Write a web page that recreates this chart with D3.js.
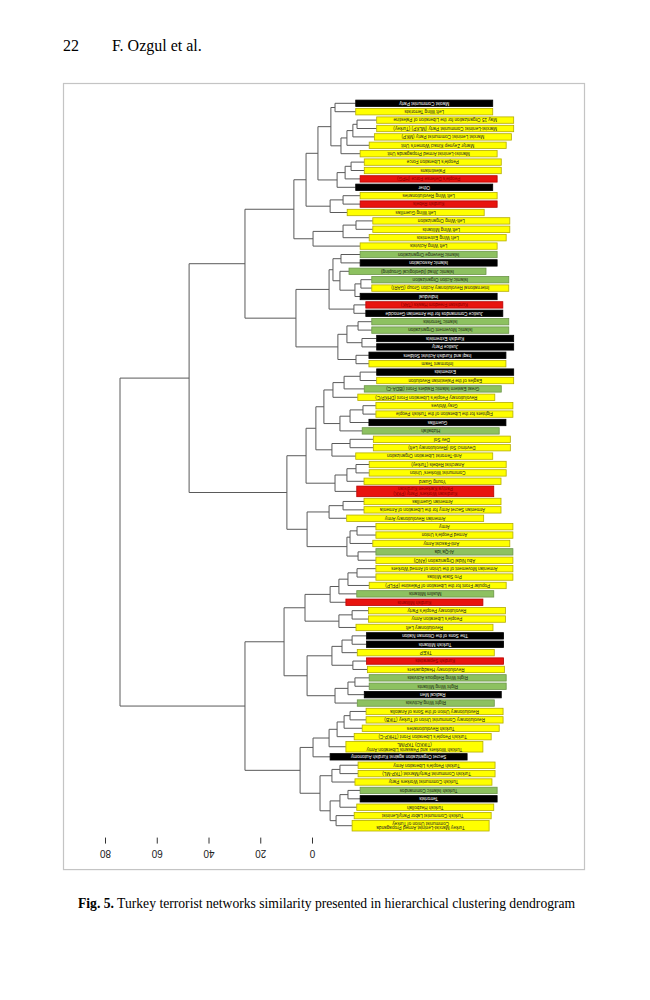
<!DOCTYPE html>
<html><head><meta charset="utf-8">
<script src="https://cdn.jsdelivr.net/npm/d3@7"></script>
<style>body{margin:0;background:#fff}svg{display:block}</style>
</head><body>
<svg id="c" width="650" height="1000"></svg>
<script>
// ---------- DATA ----------
const leafLabels = [
"Maoist Communist Party","Left Wing Terrorists","May 15 Organization for the Liberation of Palestine",
"Marxist-Leninist Communist Party (MLKP) (Turkey)","Marxist Leninist Communist Party (MKP)",
"Martyr Zeynep Kinaci Women's Unit","Marxist-Leninist Armed Propaganda Unit","People's Liberation Force",
"Palestinians","People's Defense Force (HPG)","Other","Left Wing Revolutionaries","Kurdish Rebels",
"Left Wing Guerrillas","Left-Wing Organization","Left Wing Militants","Left Wing Extremists",
"Left Wing Activists","Islamic Revenge Organization","Islamic Association",
"Islamic Jihad (Ideological Grouping)","Islamic Action Organization",
"International Revolutionary Action Group (GARI)","Individual","Kurdistan Freedom Hawks (TAK)",
"Justice Commandos for the Armenian Genocide","Islamic Terrorists","Islamic Movement Organization",
"Kurdish Extremists","Justice Party","Iraqi and Kurdish Activist Soldiers","Informant Team","Extremists",
"Eagles of the Palestinian Revolution","Great Eastern Islamic Raiders Front (IBDA-C)",
"Revolutionary People's Liberation Front (DHKP/C)","Gray Wolves",
"Fighters for the Liberation of the Turkish People","Guerrillas","Hizballah","Dev Sol",
"Devrimci Sol (Revolutionary Left)","Anti-Terrorist Liberation Organization","Anarchist Rebels (Turkey)",
"Communist Workers' Union","Young Guard","Kurdistan Workers' Party (PKK)\nPartiya Karkeren Kurdistan",
"Armenian Guerrillas","Armenian Secret Army for the Liberation of Armenia","Armenian Revolutionary Army",
"Army","Armed People's Union","Anti-Fascist Army","Al-Qa`ida","Abu Nidal Organization (ANO)",
"Armenian Movement of the Union of Armed Workers","Pro State Militias",
"Popular Front for the Liberation of Palestine (PFLP)","Muslim Militants","Kurdish Militants",
"Revolutionary People's Party","People's Liberation Army","Revolutionary Left",
"The Sons of the Ottoman Nation","Turkish Militants","TKEP","Kurdish Separatists",
"Revolutionary Headquarters","Right Wing Religious Activists","Right Wing Militants","Radical Men",
"Right Wing Activists","Revolutionary Union of the Sons of Anatolia",
"Revolutionary Communist Union of Turkey (TIKB)","Turkish Revolutionaries",
"Turkish People's Liberation Front (THKP-C)",
"Turkish Workers and Peasants Liberation Army\n(TIKKO) TKP/ML",
"Secret Organization against Kurdish Autonomy","Turkish People's Liberation Army",
"Turkish Communist Party/Marxist (TKP-ML)","Turkish Communist Workers Party","Turkish Islamic Commandos",
"Terrorists","Turkish Hezbollah","Turkish Communist Labor Party/Leninist",
"Turkey Marxist-Leninist Armed Propaganda\nCommunist Union of Turkey"
];
const leafGroups = [
"B","Y","Y","Y","Y","Y","Y","Y","Y","R",
"B","Y","R","Y","Y","Y","Y","Y","G","B",
"G","G","Y","B","R","B","G","G","B","B",
"B","Y","B","Y","G","Y","Y","Y","B","G",
"Y","Y","Y","Y","Y","Y","R","Y","Y","Y",
"Y","Y","Y","G","Y","Y","Y","Y","G","R",
"Y","Y","Y","B","B","Y","R","Y","G","G",
"B","G","Y","Y","Y","Y","Y","B","Y","Y",
"Y","G","B","Y","Y","Y"
];
// level at which each leaf's line ends (axis units)
const leafLevels = [
-16.9,-16.9,-25.0,-25.0,-24.1,-22.1,-18.6,-20.2,-20.2,-18.6,
-16.9,-18.6,-18.6,-13.6,-23.5,-23.5,-22.1,-18.6,-18.6,-18.6,
-14.3,-23.1,-23.1,-18.6,-20.8,-20.8,-23.1,-23.1,-25.0,-25.0,
-22.0,-22.0,-25.0,-25.0,-20.2,-17.7,-24.7,-24.7,-22.0,-19.4,
-23.7,-23.7,-16.9,-22.1,-22.1,-20.1,-17.3,-20.1,-20.1,-13.4,
-24.7,-24.7,-23.5,-24.7,-24.7,-24.7,-24.7,-22.1,-17.3,-13.1,
-21.8,-21.8,-17.0,-21.1,-21.1,-17.5,-21.1,-21.4,-22.1,-22.1,
-20.2,-17.5,-20.9,-20.9,-19.4,-16.3,-13.1,-7.0,-17.8,-17.8,
-16.6,-18.6,-18.6,-17.3,-16.3,-15.5
];
// merge table (R hclust convention: negative = leaf, positive = earlier merge)
const mergeLeft = [
-1,-3,2,3,4,1,-8,7,8,6,
-12,11,10,-15,14,15,13,-19,-22,19,
-21,18,-25,22,-27,-29,25,-31,27,24,
17,-33,32,33,-37,35,36,34,-41,39,
38,-44,42,43,41,-48,46,-51,48,-54,
49,47,45,31,-56,55,56,57,-61,59,
58,-64,62,-67,63,-69,66,67,65,61,
-73,71,72,73,74,-79,76,-82,78,-85,
79,77,75,70,54
];
const mergeRight = [
-2,-4,-5,-6,-7,5,-9,-10,-11,9,
-13,-14,12,-16,-17,-18,16,-20,-23,-24,
20,21,-26,23,-28,-30,26,-32,28,29,
30,-34,-35,-36,-38,-39,-40,37,-42,-43,
40,-45,-46,-47,44,-49,-50,-52,-53,-55,
50,51,52,53,-57,-58,-59,-60,-62,-63,
60,-65,-66,-68,64,-70,-71,-72,68,69,
-74,-75,-76,-77,-78,-80,-81,-83,-84,-86,
80,81,82,83,84
];
const mergeHeights = [
-8.9,-17.4,-15.8,-13.5,-11.2,-7.3,-15.1,-12.8,-9.7,-2.3,
-12.0,-7.0,2.3,-17.0,-12.0,-0.4,7.0,-11.2,-18.9,-16.6,
-10.8,-8.1,-16.2,-6.6,-17.8,-19.3,-13.5,-17.0,-10.0,6.2,
25.9,-18.6,-12.4,-8.1,-19.7,-14.7,-10.8,-4.6,-14.7,-7.7,
-1.5,-17.0,-13.5,-8.9,2.3,-12.0,-6.6,-17.4,-14.7,-17.8,
-13.5,1.9,9.7,47.5,-17.4,-13.9,-10.4,-7.0,-15.5,-10.4,
2.7,-15.5,-11.6,-15.8,-7.7,-16.6,-13.9,-8.9,1.9,10.8,
-14.7,-12.4,-9.7,-6.6,-0.4,-10.8,-7.7,-13.9,-10.8,-9.3,
-7.0,-3.1,4.6,25.9,74.2
];
const tickValues = [80,60,40,20,0];
const headerPage = "22";
const headerAuthors = "F. Ozgul et al.";
const captionBold = "Fig. 5.";
const captionText = " Turkey terrorist networks similarity presented in hierarchical clustering dendrogram";

// ---------- STYLE ----------
const groupFill = {Y:"#ffff00", B:"#000000", R:"#e8140f", G:"#8dc160"};
const groupStroke = {Y:"#b5ad00", B:"#000000", R:"#b80000", G:"#6c9648"};
const groupText = {Y:"#222", B:"#ffffff", R:"#8a0000", G:"#1e2a10"};

const svg = d3.select("#c");
const serif = "'Liberation Serif','Times New Roman',serif";
const sans = "'Liberation Sans',Arial,sans-serif";

// header
svg.append("text").attr("x",63).attr("y",51).attr("font-family",serif).attr("font-size",16).text(headerPage);
svg.append("text").attr("x",112).attr("y",51).attr("font-family",serif).attr("font-size",16).text(headerAuthors);

// scales
const x = d3.scaleLinear().domain([0,80]).range([312,105]);
const nLines = leafLabels.map(s => s.split("\n").length);
const slot = nLines.map(n => n > 1 ? 1.4 : 1);
const cum = d3.cumsum(slot);
const centers = slot.map((s,i) => cum[i] - s/2);
const total = cum[cum.length-1];
const step = 8.4;
const y0 = 99.1;
const y = d3.scaleLinear().domain([0,total]).range([y0, y0 + total*step]);

// build tree
const leaves = leafLabels.map((lab,i) => ({name:lab, h:leafLevels[i], g:leafGroups[i], idx:i}));
const merges = [];
mergeLeft.forEach((a,k) => {
  const ref = v => v < 0 ? leaves[-v-1] : merges[v-1];
  merges.push({children:[ref(a), ref(mergeRight[k])], h:mergeHeights[k]});
});
const root = d3.hierarchy(merges[merges.length-1]);
root.eachAfter(n => {
  n.px = x(n.data.h);
  n.py = n.children ? d3.mean(n.children, c => c.py) : y(centers[n.data.idx]);
});

const axisBottomY = y(total);

// frame
svg.append("rect").attr("x",63.5).attr("y",83.5).attr("width",521).attr("height",axisBottomY + 38 - 83.5)
  .attr("fill","none").attr("stroke","#c4c4c4").attr("stroke-width",1.2);

// links
const linkG = svg.append("g").attr("fill","none").attr("stroke","#5a5a5a").attr("stroke-width",1);
root.descendants().filter(n => n.children).forEach(n => {
  const [a,b] = n.children;
  linkG.append("path").attr("d",
    `M${a.px},${a.py}H${n.px}V${b.py}H${b.px}`);
});
// root stub
linkG.append("path").attr("d", `M${root.px - 0},${root.py}H${root.px}`);

// leaf bars
const barW = 137;
const barG = svg.append("g");
root.leaves().forEach(n => {
  const d = n.data;
  const lines = d.name.split("\n");
  const bh = lines.length > 1 ? 10.6 : 6.4;
  barG.append("rect").attr("x",n.px).attr("y",n.py - bh/2).attr("width",barW).attr("height",bh)
    .attr("fill",groupFill[d.g]).attr("stroke",groupStroke[d.g]).attr("stroke-width",0.8);
  const t = barG.append("text")
    .attr("transform",`translate(${n.px + barW/2},${n.py}) rotate(180)`)
    .attr("text-anchor","middle").attr("font-family",sans).attr("font-size",4.6)
    .attr("fill",groupText[d.g]);
  lines.forEach((ln,i) => {
    t.append("tspan").attr("x",0).attr("y",(i - (lines.length-1)/2)*4.8).attr("dy","0.35em").text(ln);
  });
});

// axis
const axis = d3.axisBottom(x).tickValues(tickValues).tickSize(6).tickFormat(d3.format("d"));
const ag = svg.append("g").attr("transform",`translate(0,${axisBottomY + 6})`).call(axis);
ag.select(".domain").remove();
ag.selectAll(".tick line").attr("stroke","#333");
ag.selectAll(".tick text")
  .attr("y",0).attr("dy",null)
  .attr("transform","translate(0,16) rotate(180)")
  .attr("dominant-baseline","central")
  .attr("font-family",sans).attr("font-size",10).attr("fill","#222");

// caption
const capY = axisBottomY + 76;
const cap = svg.append("text").attr("x",78).attr("y",capY).attr("font-family",serif).attr("font-size",14);
cap.append("tspan").attr("font-weight","bold").text(captionBold);
cap.append("tspan").text(captionText);
const targetW = 498;
const w = cap.node().getComputedTextLength();
cap.attr("font-size", 14 * targetW / w);
</script>
</body></html>
